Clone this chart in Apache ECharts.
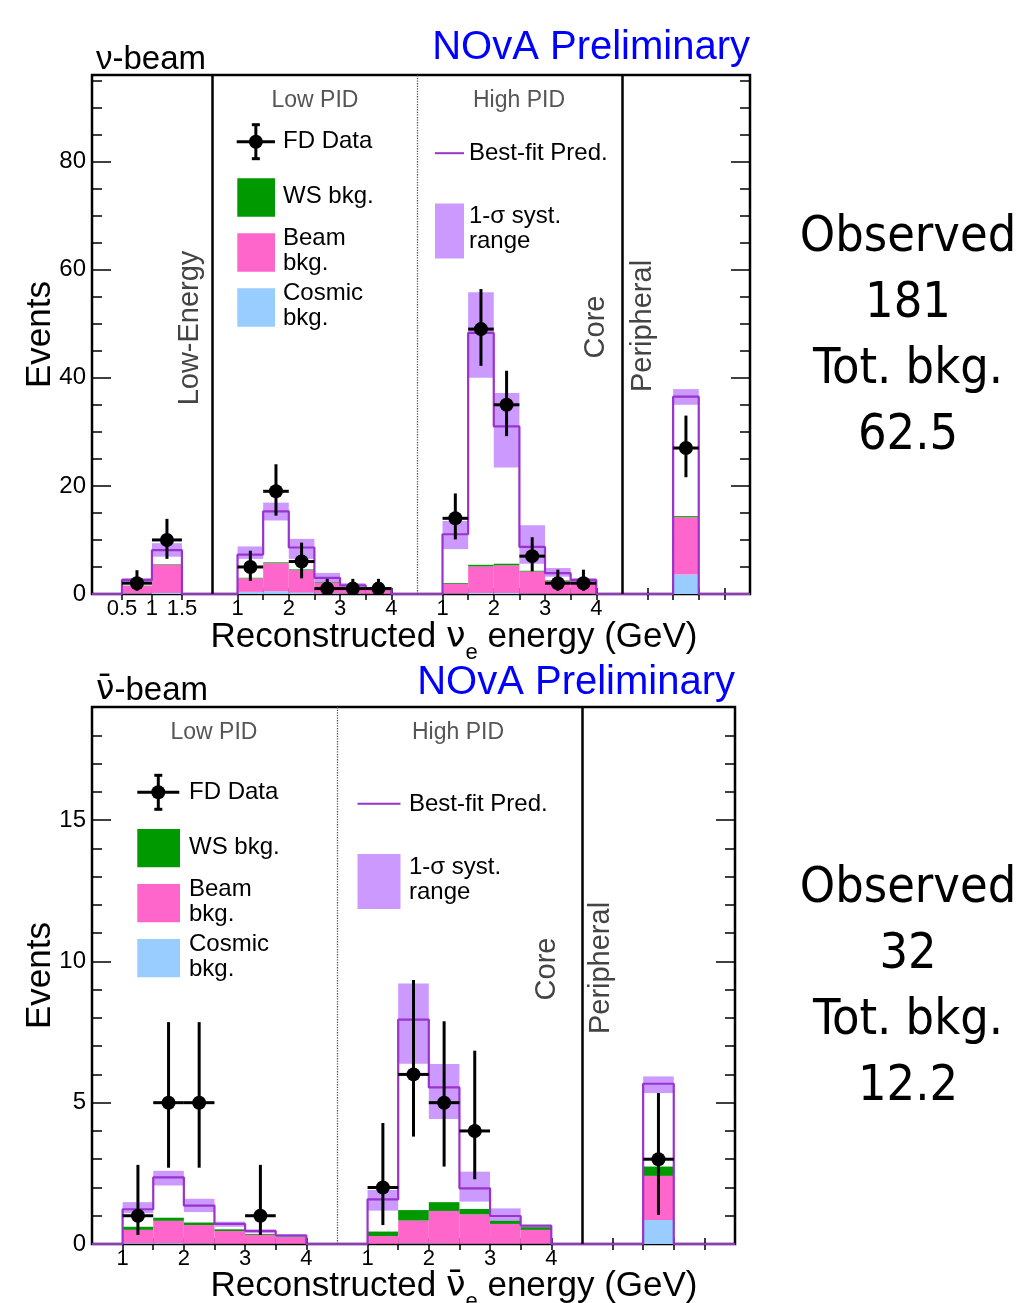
<!DOCTYPE html>
<html>
<head>
<meta charset="utf-8">
<title>NOvA FD spectra</title>
<script src="https://cdn.jsdelivr.net/npm/echarts@6.0.0/dist/echarts.min.js"></script>
<style>
  html, body { margin: 0; padding: 0; background: #fff; }
  #chart { width: 1026px; height: 1303px; }
</style>
</head>
<body>
<div id="chart"></div>
<script>
// nu-beam (top). bins are 0.5 GeV wide; section 0 low-energy, 1 low PID, 2 high PID, 3 peripheral
const nuSection = [0, 0, 1, 1, 1, 1, 1, 1, 2, 2, 2, 2, 2, 2, 3]
const nuBinLo = [0.5, 1.0, 1.0, 1.5, 2.0, 2.5, 3.0, 3.5, 1.0, 1.5, 2.0, 2.5, 3.0, 3.5, 1.0]
const nuCosmic = [0.1, 0.2, 0.4, 0.5, 0.3, 0.15, 0.1, 0.05, 0.1, 0.2, 0.2, 0.1, 0.05, 0.05, 3.6]
const nuBeam = [1.4, 5.2, 2.5, 5.2, 4.1, 1.95, 1.1, 0.75, 1.75, 4.9, 5.1, 4.05, 2.4, 2.0, 10.6]
const nuWs = [0.05, 0.1, 0.1, 0.15, 0.15, 0.1, 0.05, 0.05, 0.15, 0.3, 0.3, 0.15, 0.1, 0.05, 0.2]
const nuPred = [2.6, 8.1, 7.3, 15.3, 8.6, 3.0, 1.6, 1.05, 11.05, 48.3, 31.0, 8.7, 3.85, 2.6, 36.5]
const nuSystLo = [2.1, 6.9, 6.5, 13.6, 6.5, 2.1, 1.3, 0.8, 8.3, 40.0, 23.4, 5.6, 3.2, 2.0, 35.0]
const nuSystHi = [2.9, 9.4, 8.8, 16.9, 10.2, 3.9, 2.0, 1.3, 13.5, 55.8, 37.2, 12.7, 4.8, 2.9, 37.9]
const nuData = [2, 10, 5, 19, 6, 1, 1, 1, 14, 49, 35, 7, 2, 2, 27]
const nuDataLo = [0.6, 6.5, 2.4, 14.5, 2.9, 0.2, 0.2, 0.2, 10.1, 42.2, 29.2, 4.2, 0.6, 0.6, 21.6]
const nuDataHi = [4.4, 13.9, 8.0, 24.0, 9.5, 2.8, 2.8, 2.8, 18.6, 56.4, 41.3, 10.5, 4.5, 4.5, 33.0]

// anti-nu-beam (bottom). section 0 low PID, 1 high PID, 2 peripheral
const antiSection = [0, 0, 0, 0, 0, 0, 1, 1, 1, 1, 1, 1, 2]
const antiBinLo = [1.0, 1.5, 2.0, 2.5, 3.0, 3.5, 1.0, 1.5, 2.0, 2.5, 3.0, 3.5, 1.0]
const antiCosmic = [0.03, 0.03, 0.02, 0.01, 0.01, 0.01, 0.01, 0.02, 0.02, 0.01, 0.01, 0.01, 0.85]
const antiBeam = [0.47, 0.79, 0.65, 0.45, 0.31, 0.23, 0.27, 0.81, 1.15, 1.04, 0.70, 0.49, 1.56]
const antiWs = [0.11, 0.11, 0.09, 0.06, 0.03, 0.02, 0.16, 0.37, 0.31, 0.19, 0.11, 0.09, 0.33]
const antiPred = [1.23, 2.36, 1.36, 0.71, 0.46, 0.30, 1.58, 7.94, 5.54, 1.97, 0.99, 0.65, 5.67]
const antiSystLo = [1.09, 2.07, 1.13, 0.61, 0.38, 0.24, 1.18, 6.38, 4.42, 1.50, 0.79, 0.52, 5.34]
const antiSystHi = [1.48, 2.59, 1.60, 0.79, 0.52, 0.35, 1.91, 9.22, 6.37, 2.56, 1.26, 0.67, 5.93]
const antiData = [1, 5, 5, 0, 1, 0, 2, 6, 5, 4, 0, 0, 3]
const antiDataLo = [0.32, 2.7, 2.7, null, 0.32, null, 0.67, 3.8, 2.74, 2.29, null, null, 1.03]
const antiDataHi = [2.8, 7.85, 7.85, null, 2.8, null, 4.28, 9.34, 7.88, 6.84, null, null, 5.34]

// axis labels
const nuTickLabels = [[0.5, 1, 1.5], [1, 2, 3, 4], [1, 2, 3, 4], []]
const antiTickLabels = [[1, 2, 3, 4], [1, 2, 3, 4], []]
const nuYLabels = [0, 20, 40, 60, 80]
const antiYLabels = [0, 5, 10, 15]

const nuSummary = ['Observed', '181', 'Tot. bkg.', '62.5']
const antiSummary = ['Observed', '32', 'Tot. bkg.', '12.2']

const BIN_WIDTH = 0.5
const FONT = "'Liberation Sans', Arial, sans-serif"
const COLORS = { cosmic: '#99ccff', beam: '#ff66cc', ws: '#009900', syst: '#cc99ff', pred: '#9933cc' }

// each section of the concatenated x axis: GeV range and its share of the axis
const panels = [
  {
    grid: { left: 92, top: 75, width: 658, height: 519 },
    yMax: 96, yMinorStep: 5, yLabels: nuYLabels, tickLabels: nuTickLabels,
    sections: [
      { lo: 0, hi: 2, span: 2.34 },
      { lo: 0.5, hi: 4.5, span: 4, sep: 'solid' },
      { lo: 0.5, hi: 4.5, span: 4, sep: 'dotted' },
      { lo: 0, hi: 2.5, span: 2.5, sep: 'solid' }
    ],
    section: nuSection, binLo: nuBinLo, cosmic: nuCosmic, beam: nuBeam, ws: nuWs,
    pred: nuPred, systLo: nuSystLo, systHi: nuSystHi,
    data: nuData, dataLo: nuDataLo, dataHi: nuDataHi
  },
  {
    grid: { left: 92, top: 707, width: 643, height: 537 },
    yMax: 19, yMinorStep: 1, yLabels: antiYLabels, tickLabels: antiTickLabels,
    sections: [
      { lo: 0.5, hi: 4.5, span: 4 },
      { lo: 0.5, hi: 4.5, span: 4, sep: 'dotted' },
      { lo: 0, hi: 2.5, span: 2.5, sep: 'solid' }
    ],
    section: antiSection, binLo: antiBinLo, cosmic: antiCosmic, beam: antiBeam, ws: antiWs,
    pred: antiPred, systLo: antiSystLo, systHi: antiSystHi,
    data: antiData, dataLo: antiDataLo, dataHi: antiDataHi
  }
]

function makeMapper(sections) {
  const starts = []
  let acc = 0
  sections.forEach((s) => { starts.push(acc); acc += s.span })
  const toG = (si, e) => starts[si] + (e - sections[si].lo) * sections[si].span / (sections[si].hi - sections[si].lo)
  return { starts, total: acc, toG }
}

function renderHist(params, api) {
  const x0 = api.value(0)
  const x1 = api.value(1)
  const c = api.value(2)
  const b = api.value(3)
  const w = api.value(4)
  const rect = (ya, yb, fill) => {
    const p0 = api.coord([x0, yb])
    const p1 = api.coord([x1, ya])
    return { type: 'rect', shape: { x: p0[0], y: p0[1], width: p1[0] - p0[0], height: p1[1] - p0[1] }, style: { fill } }
  }
  return {
    type: 'group',
    children: [
      rect(api.value(5), api.value(6), COLORS.syst),
      rect(0, c, COLORS.cosmic),
      rect(c, c + b, COLORS.beam),
      rect(c + b, c + b + w, COLORS.ws)
    ]
  }
}

function renderPoint(params, api) {
  const xl = api.coord([api.value(0), api.value(2)])
  const xr = api.coord([api.value(1), api.value(2)])
  const lo = api.coord([api.value(0), api.value(3)])
  const hi = api.coord([api.value(0), api.value(4)])
  const cx = (xl[0] + xr[0]) / 2
  const line = { stroke: '#000', lineWidth: 3 }
  return {
    type: 'group',
    children: [
      { type: 'line', shape: { x1: xl[0], y1: xl[1], x2: xr[0], y2: xr[1] }, style: line },
      { type: 'line', shape: { x1: cx, y1: lo[1], x2: cx, y2: hi[1] }, style: line },
      { type: 'circle', shape: { cx, cy: xl[1], r: 7 }, style: { fill: '#000' } }
    ]
  }
}

function buildPanel(p, gi) {
  const m = makeMapper(p.sections)
  const hist = []
  const points = []
  p.section.forEach((si, i) => {
    const g0 = m.toG(si, p.binLo[i])
    const g1 = m.toG(si, p.binLo[i] + BIN_WIDTH)
    hist.push([g0, g1, p.cosmic[i], p.beam[i], p.ws[i], p.systLo[i], p.systHi[i]])
    if (p.data[i] > 0) points.push([g0, g1, p.data[i], p.dataLo[i], p.dataHi[i]])
  })

  // best-fit prediction drawn as one histogram outline over the whole axis
  const step = [[0, 0]]
  let lastX = 0
  let lastV = 0
  hist.forEach((h, i) => {
    if (h[0] > lastX + 1e-9) {
      if (lastV !== 0) step.push([lastX, 0])
      step.push([h[0], 0])
      lastV = 0
    }
    step.push([h[0], p.pred[i]])
    step.push([h[1], p.pred[i]])
    lastX = h[1]
    lastV = p.pred[i]
  })
  step.push([lastX, 0])
  step.push([m.total, 0])

  const xTicks = []
  const labelVals = []
  const labelMap = {}
  p.sections.forEach((s, si) => {
    for (let e = s.lo + 0.5; e < s.hi - 1e-9; e += 0.5) xTicks.push(m.toG(si, e))
    p.tickLabels[si].forEach((v) => {
      const g = m.toG(si, v)
      labelVals.push(g)
      labelMap[g.toFixed(4)] = String(v)
    })
  })
  const yMinor = []
  for (let v = p.yMinorStep; v < p.yMax; v += p.yMinorStep) {
    if (!p.yLabels.includes(v)) yMinor.push(v)
  }

  const separators = p.sections.slice(1).map((s, k) => ({
    xAxis: m.starts[k + 1],
    lineStyle: s.sep === 'dotted'
      ? { type: 'dotted', color: '#555', width: 1.3 }
      : { type: 'solid', color: '#000', width: 2.5 }
  }))

  const tickStyle = { color: '#000', width: 1.5 }
  const xAxes = ['bottom', 'top'].map((pos) => ({
    gridIndex: gi, type: 'value', position: pos, min: 0, max: m.total,
    axisLine: { show: false }, splitLine: { show: false },
    axisTick: { show: true, inside: true, length: 6, customValues: xTicks, lineStyle: tickStyle },
    axisLabel: pos === 'bottom'
      ? { show: true, customValues: labelVals, formatter: (v) => labelMap[v.toFixed(4)] || '', fontSize: 22, fontFamily: FONT, color: '#000', margin: 4 }
      : { show: false }
  }))
  const yAxes = []
  ;['left', 'right'].forEach((pos) => {
    yAxes.push({
      gridIndex: gi, type: 'value', position: pos, min: 0, max: p.yMax,
      axisLine: { show: false }, splitLine: { show: false },
      axisTick: { show: true, inside: true, length: 19, customValues: p.yLabels, lineStyle: tickStyle },
      axisLabel: pos === 'left'
        ? { show: true, customValues: p.yLabels, fontSize: 24, fontFamily: FONT, color: '#000', margin: 6 }
        : { show: false },
      name: pos === 'left' ? 'Events' : '',
      nameLocation: 'middle', nameRotate: 90, nameGap: 34, nameMoveOverlap: false,
      nameTextStyle: { fontSize: 35, fontFamily: FONT, color: '#000' }
    })
    yAxes.push({
      gridIndex: gi, type: 'value', position: pos, min: 0, max: p.yMax,
      axisLine: { show: false }, splitLine: { show: false },
      axisTick: { show: true, inside: true, length: 10, customValues: yMinor, lineStyle: tickStyle },
      axisLabel: { show: false }
    })
  })

  const xi = gi * 2
  const yi = gi * 4
  const series = [
    {
      type: 'custom', name: 'hist' + gi, xAxisIndex: xi, yAxisIndex: yi, z: 2, clip: true,
      renderItem: renderHist, data: hist, encode: { x: [0, 1], y: [5, 6] }
    },
    {
      type: 'line', name: 'pred' + gi, xAxisIndex: xi, yAxisIndex: yi, z: 3,
      data: step, symbol: 'none', lineStyle: { color: COLORS.pred, width: 2.2 },
      markLine: { silent: true, symbol: ['none', 'none'], label: { show: false }, data: separators }
    },
    {
      type: 'custom', name: 'data' + gi, xAxisIndex: xi, yAxisIndex: yi, z: 5, clip: true,
      renderItem: renderPoint, data: points, encode: { x: [0, 1], y: [2, 3, 4] }
    }
  ]
  const grid = Object.assign({ show: true, borderColor: '#000', borderWidth: 2.5, backgroundColor: '#fff' }, p.grid)
  return { grid, xAxes, yAxes, series }
}

function text(x, y, str, size, opts = {}) {
  return {
    type: 'text', x, y, rotation: opts.rotation || 0, silent: true, z: 100,
    style: {
      text: str, fill: opts.color || '#000', fontSize: size, fontFamily: opts.font || FONT,
      align: opts.align || 'left', verticalAlign: opts.valign || 'middle',
      lineHeight: opts.lineHeight, rich: opts.rich
    }
  }
}

function legend(L) {
  const els = []
  const line = { stroke: '#000', lineWidth: 3 }
  els.push({ type: 'line', z: 100, shape: { x1: L.fdX0, y1: L.fdY, x2: L.fdX1, y2: L.fdY }, style: line })
  const cx = (L.fdX0 + L.fdX1) / 2
  els.push({ type: 'line', z: 100, shape: { x1: cx, y1: L.fdY - 17, x2: cx, y2: L.fdY + 17 }, style: line })
  els.push({ type: 'line', z: 100, shape: { x1: cx - 4, y1: L.fdY - 17, x2: cx + 4, y2: L.fdY - 17 }, style: line })
  els.push({ type: 'line', z: 100, shape: { x1: cx - 4, y1: L.fdY + 17, x2: cx + 4, y2: L.fdY + 17 }, style: line })
  els.push({ type: 'circle', z: 100, shape: { cx, cy: L.fdY, r: 7 }, style: { fill: '#000' } })
  els.push(text(L.textX, L.fdY, 'FD Data', 24))
  const boxes = [
    { dy: 36.6, color: COLORS.ws, label: 'WS bkg.' },
    { dy: 91.6, color: COLORS.beam, label: 'Beam\nbkg.' },
    { dy: 146.6, color: COLORS.cosmic, label: 'Cosmic\nbkg.' }
  ]
  boxes.forEach((b) => {
    const top = L.fdY + b.dy
    els.push({ type: 'rect', z: 100, shape: { x: L.boxX, y: top, width: L.boxW, height: 38.4 }, style: { fill: b.color } })
    els.push(text(L.textX, top + 18, b.label, 24, { lineHeight: 25 }))
  })
  els.push({ type: 'line', z: 100, shape: { x1: L.predX, y1: L.fdY + 11.5, x2: L.predX + L.predW, y2: L.fdY + 11.5 }, style: { stroke: COLORS.pred, lineWidth: 2 } })
  els.push(text(L.predTextX, L.fdY + 12, 'Best-fit Pred.', 24))
  els.push({ type: 'rect', z: 100, shape: { x: L.predX, y: L.fdY + 61.7, width: L.predW, height: 55 }, style: { fill: COLORS.syst } })
  els.push(text(L.predTextX, L.fdY + 87.5, '1-\u03c3 syst.\nrange', 24, { lineHeight: 25 }))
  els.push(text(L.lowX, L.headY, 'Low PID', 23, { align: 'center', color: '#555' }))
  els.push(text(L.highX, L.headY, 'High PID', 23, { align: 'center', color: '#555' }))
  return els
}

function axisTitle(x, y, nu) {
  const rich = {
    a: { fontSize: 35, fontFamily: FONT, fill: '#000', verticalAlign: 'bottom', padding: [0, 0, 9, 0] },
    n: { fontSize: 35, fontFamily: "'DejaVu Sans', sans-serif", fill: '#000', verticalAlign: 'bottom', padding: [0, 0, 9, 0] },
    s: { fontSize: 22, fontFamily: FONT, fill: '#000', verticalAlign: 'bottom' }
  }
  return text(x, y, '{a|Reconstructed }{n|' + nu + '}{s|e}{a| energy (GeV)}', 35, { align: 'center', rich })
}

const SUMMARY_FONT = "'DejaVu Sans Condensed', 'DejaVu Sans', sans-serif"
const NU = '\u03bd'
const NU_BAR = '\u03bd\u0304'
const graphics = [
  text(96, 76, NU + '-beam', 33, { valign: 'bottom' }),
  text(750, 68, 'NOvA Preliminary', 40, { valign: 'bottom', align: 'right', color: '#0000ff' }),
  text(96, 707, '{n|' + NU_BAR + '}-beam', 33, { valign: 'bottom', rich: { n: { fontSize: 33, fontFamily: "'DejaVu Sans', sans-serif", fill: '#000' } } }),
  text(735, 703, 'NOvA Preliminary', 40, { valign: 'bottom', align: 'right', color: '#0000ff' }),
  axisTitle(454, 642, NU),
  axisTitle(454, 1291, NU_BAR),
  text(190, 328, 'Low-Energy', 29, { rotation: Math.PI / 2, align: 'center', color: '#444' }),
  text(596, 327, 'Core', 29, { rotation: Math.PI / 2, align: 'center', color: '#444' }),
  text(643, 326, 'Peripheral', 29, { rotation: Math.PI / 2, align: 'center', color: '#444' }),
  text(547, 969, 'Core', 29, { rotation: Math.PI / 2, align: 'center', color: '#444' }),
  text(601, 968, 'Peripheral', 29, { rotation: Math.PI / 2, align: 'center', color: '#444' }),
  text(908, 337, nuSummary.join('\n'), 50, { align: 'center', lineHeight: 66, font: SUMMARY_FONT }),
  text(908, 988, antiSummary.join('\n'), 50, { align: 'center', lineHeight: 66, font: SUMMARY_FONT })
].concat(
  legend({ fdX0: 236.7, fdX1: 275, fdY: 141.7, boxX: 237.3, boxW: 37.7, textX: 283, predX: 435, predW: 29, predTextX: 469, lowX: 315, highX: 519, headY: 101 }),
  legend({ fdX0: 137.3, fdX1: 179.3, fdY: 792.3, boxX: 137.3, boxW: 42.7, textX: 189, predX: 357.5, predW: 43, predTextX: 409, lowX: 214, highX: 458, headY: 733 })
)

const built = panels.map(buildPanel)
const chart = echarts.init(document.getElementById('chart'))
chart.setOption({
  animation: false,
  backgroundColor: '#fff',
  grid: built.map((b) => b.grid),
  xAxis: built.flatMap((b) => b.xAxes),
  yAxis: built.flatMap((b) => b.yAxes),
  series: built.flatMap((b) => b.series),
  graphic: { elements: graphics }
})
</script>
</body>
</html>
